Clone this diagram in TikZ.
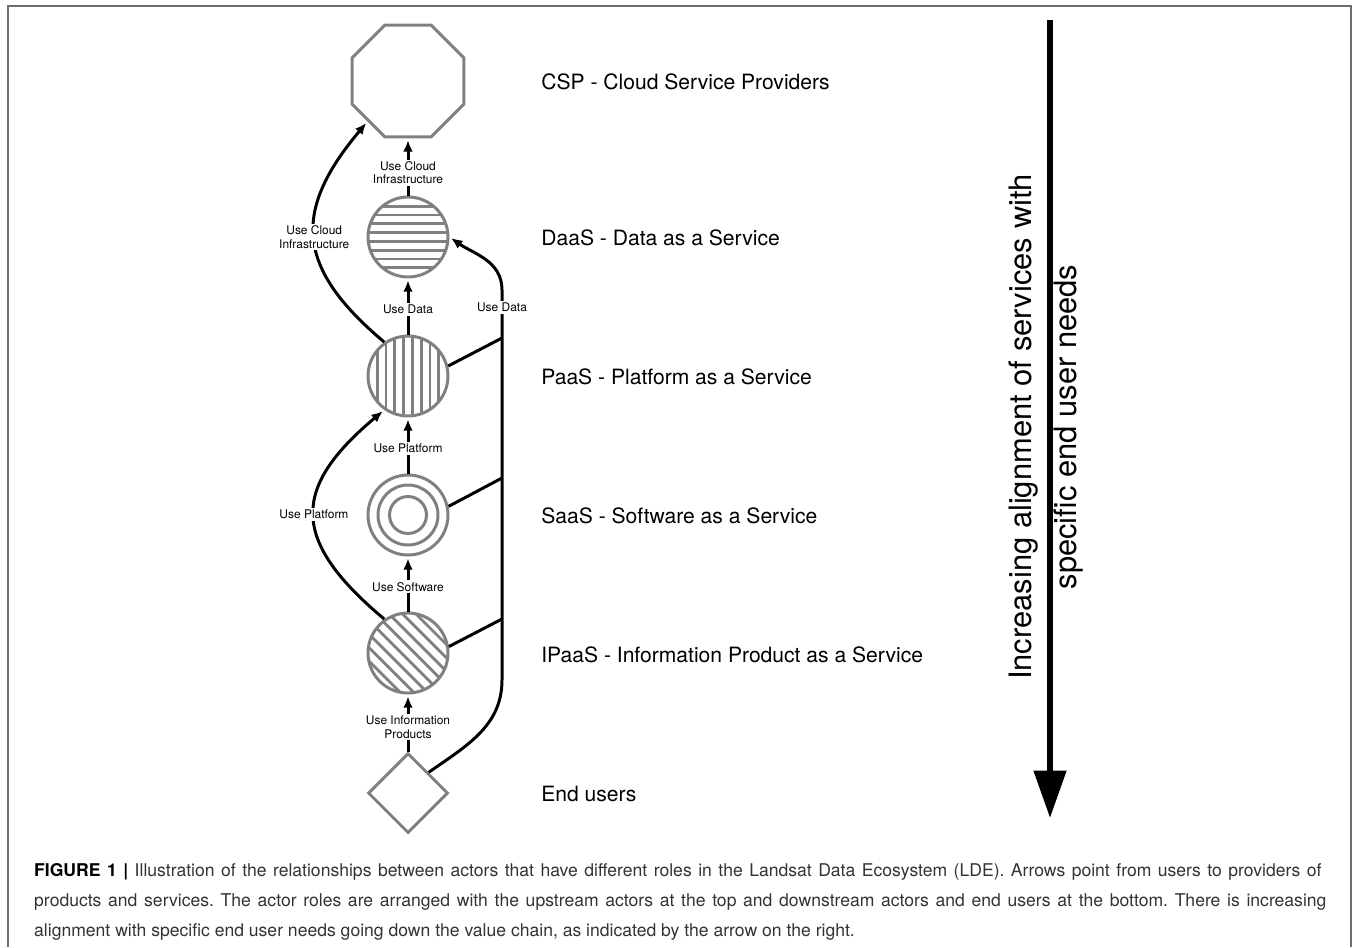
\documentclass[tikz,border=0pt]{standalone}
\usepackage{fontspec}
\setmainfont{TeX Gyre Heros}
\usetikzlibrary{shapes.geometric,arrows.meta}
\definecolor{actorgray}{HTML}{808080}
\definecolor{framegray}{HTML}{6E6E6E}
\definecolor{captext}{HTML}{333333}
\frenchspacing

\begin{document}
\begin{tikzpicture}[x=0.02cm, y=-0.02cm,
    actor/.style={draw=actorgray, line width=1.7pt, inner sep=0pt},
    hatch/.style={actorgray, line width=1.6pt},
    uses/.style={line width=1.7pt, -{Latex[length=6.5pt, width=5.5pt]}, shorten >=1pt},
    link/.style={line width=1.7pt},
    lbl/.style={fill=white, inner sep=1pt, align=center, font=\fontsize{6.8}{7.8}\selectfont},
    role/.style={anchor=west, inner sep=0pt, font=\fontsize{12}{14}\selectfont},
    caption/.style={anchor=west, align=left, text=captext, font=\fontsize{10}{17}\selectfont}]
    \useasboundingbox (0,0) rectangle (1354,947);
    \draw[framegray, line width=1.2pt] (8,947) -- (8,6) -- (1351,6) -- (1351,947);

    % actors
    \node[actor, regular polygon, regular polygon sides=8, minimum size=2.42cm] (csp) at (408,81) {};
    \node[actor, circle, minimum size=1.6cm, path picture={
        \foreach \o in {-0.616,-0.44,-0.264,-0.088,0.088,0.264,0.44,0.616}
            \draw[hatch] ([yshift=\o cm]path picture bounding box.west) -- ([yshift=\o cm]path picture bounding box.east);
    }] (daas) at (408,237) {};
    \node[actor, circle, minimum size=1.6cm, path picture={
        \foreach \o in {-0.616,-0.44,-0.264,-0.088,0.088,0.264,0.44,0.616}
            \draw[hatch] ([xshift=\o cm]path picture bounding box.south) -- ([xshift=\o cm]path picture bounding box.north);
    }] (paas) at (408,376) {};
    \node[actor, circle, minimum size=1.6cm, path picture={
        \draw[hatch, line width=1.7pt] (path picture bounding box.center) circle[radius=0.6cm];
        \draw[hatch, line width=1.7pt] (path picture bounding box.center) circle[radius=0.37cm];
    }] (saas) at (408,515) {};
    \node[actor, circle, minimum size=1.6cm, path picture={
        \foreach \o in {-0.665,-0.475,-0.285,-0.095,0.095,0.285,0.475,0.665}
            \draw[hatch] ([shift={({\o*0.707cm-1cm},{\o*0.707cm+1cm})}]path picture bounding box.center)
                -- ([shift={({\o*0.707cm+1cm},{\o*0.707cm-1cm})}]path picture bounding box.center);
    }] (ipaas) at (408,653) {};
    \node[actor, diamond, minimum size=1.6cm] (users) at (408,793) {};

    % roles
    \node[role] (csplbl) at (541,82) {CSP - Cloud Service Providers};
    \node[role] (daaslbl) at (541,238) {DaaS - Data as a Service};
    \node[role] (paaslbl) at (541,377) {PaaS - Platform as a Service};
    \node[role] (saaslbl) at (541,516) {SaaS - Software as a Service};
    \node[role] (ipaaslbl) at (541,655) {IPaaS - Information Product as a Service};
    \node[role] (userslbl) at (541,794) {End users};

    % uses
    \draw[uses] (daas) -- node[lbl, pos=0.4] {Use Cloud\\Infrastructure} (csp);
    \draw[uses] (paas) -- node[lbl, pos=0.45] {Use Data} (daas);
    \draw[uses] (saas) -- node[lbl, pos=0.45] {Use Platform} (paas);
    \draw[uses] (ipaas) -- node[lbl, pos=0.45] {Use Software} (saas);
    \draw[uses] (users) -- node[lbl, pos=0.43] {Use Information\\Products} (ipaas);
    \draw[uses] (paas.125) to[out=140, in=230, looseness=1.35] node[lbl] {Use Cloud\\Infrastructure} (csp.225);
    \draw[uses] (ipaas.125) to[out=140, in=220, looseness=1.5] node[lbl] {Use Platform} (paas.235);

    % data bus
    \coordinate (busbot) at (502,680);
    \coordinate (bustop) at (502,290);
    \coordinate (jpaas) at (502,338);
    \coordinate (jsaas) at (502,478);
    \coordinate (jipaas) at (502,619);
    \draw[uses] (users.north east) to[out=35, in=-90] (busbot) -- node[lbl, pos=0.955] {Use Data} (bustop) to[out=90, in=-35] (daas.east);
    \draw[link] (paas.14) -- (jpaas);
    \draw[link] (saas.12) -- (jsaas);
    \draw[link] (ipaas.9) -- (jipaas);

    % trend arrow
    \coordinate (trendtop) at (1050,20);
    \coordinate (trendbot) at (1050,818);
    \draw[line width=3.4pt, -{Triangle[length=27pt, width=18pt]}] (trendtop) -- (trendbot);
    \node[rotate=90, align=center, font=\fontsize{17.6}{25.5}\selectfont] (trendlbl) at (1046,427) {Increasing alignment of services with\\specific end user needs};

    % caption
    \node[caption] (cap) at (28,902) {\makebox[25.75cm][s]{\textcolor{black}{\textbf{FIGURE 1 |}} Illustration of the relationships between actors that have different roles in the Landsat Data Ecosystem (LDE). Arrows point from users to providers of}\\
    \makebox[25.85cm][s]{products and services. The actor roles are arranged with the upstream actors at the top and downstream actors and end users at the bottom. There is increasing}\\
    alignment with specific end user needs going down the value chain, as indicated by the arrow on the right.};
\end{tikzpicture}
\end{document}
